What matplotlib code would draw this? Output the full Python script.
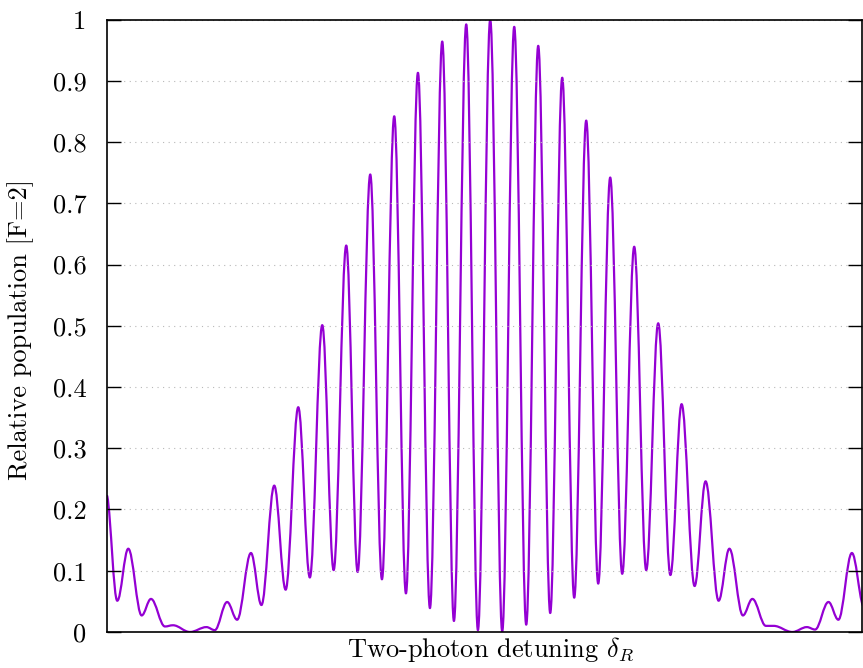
import matplotlib
matplotlib.use("Agg")
import matplotlib.pyplot as plt
from matplotlib.path import Path
from matplotlib.patches import PathPatch

plt.rcParams['font.family'] = 'serif'
plt.rcParams['font.serif'] = ['cmr10', 'DejaVu Serif']
plt.rcParams['mathtext.fontset'] = 'cm'
plt.rcParams['axes.unicode_minus'] = False

# turning points of the fringe pattern (detuning, arbitrary units; population)
# first and last entries are the curve ends at the plot edges
detuning = [-383.0, -373.0, -362.0, -348.6, -339.3, -325.3, -317.3, -300.3,
            -283.8, -275.5, -263.1, -253.1, -239.3, -228.8, -216.0, -204.6,
            -192.0, -180.4, -168.0, -156.6, -144.0, -132.6, -120.0, -108.3,
            -96.0, -84.3, -72.3, -60.3, -48.0, -36.3, -24.0, -12.3,
            0.0, 12.0, 24.0, 36.0, 48.0, 60.0, 72.0, 84.0,
            96.0, 108.0, 120.0, 132.0, 144.0, 156.0, 168.0, 180.2,
            191.4, 204.4, 215.4, 228.4, 239.2, 252.7, 262.2, 275.7,
            283.5, 302.2, 316.7, 324.9, 338.3, 348.2, 361.7, 372.7]
population = [0.222, 0.051, 0.136, 0.027, 0.054, 0.009, 0.011, 0.000,
              0.008, 0.003, 0.049, 0.020, 0.129, 0.044, 0.239, 0.069,
              0.367, 0.089, 0.501, 0.101, 0.631, 0.098, 0.747, 0.086,
              0.842, 0.063, 0.913, 0.039, 0.964, 0.018, 0.992, 0.003,
              1.000, 0.001, 0.988, 0.012, 0.957, 0.031, 0.905, 0.056,
              0.835, 0.079, 0.742, 0.095, 0.629, 0.101, 0.504, 0.093,
              0.372, 0.075, 0.246, 0.051, 0.136, 0.027, 0.054, 0.010,
              0.010, 0.000, 0.008, 0.004, 0.049, 0.020, 0.129, 0.043]

yticks = [0, 0.1, 0.2, 0.3, 0.4, 0.5, 0.6, 0.7, 0.8, 0.9, 1]
ytick_labels = ['0', '0.1', '0.2', '0.3', '0.4', '0.5', '0.6', '0.7', '0.8', '0.9', '1']


def fringe_path(xs, ys):
    # cubic pieces between turning points, flat tangents at the extrema
    k = 0.3642
    n = len(xs)
    slopes = [0.0] * n
    slopes[0] = 0.5 * (ys[1] - ys[0]) / (xs[1] - xs[0])
    slopes[-1] = 0.5 * (ys[-1] - ys[-2]) / (xs[-1] - xs[-2])
    verts = [(xs[0], ys[0])]
    codes = [Path.MOVETO]
    for i in range(n - 1):
        dx = xs[i + 1] - xs[i]
        verts.append((xs[i] + k * dx, ys[i] + k * dx * slopes[i]))
        verts.append((xs[i + 1] - k * dx, ys[i + 1] - k * dx * slopes[i + 1]))
        verts.append((xs[i + 1], ys[i + 1]))
        codes += [Path.CURVE4] * 3
    return Path(verts, codes)


fig = plt.figure(figsize=(8.63, 6.68), dpi=100)
ax = fig.add_axes([0.1243, 0.0539, 0.8751, 0.9169])

patch = PathPatch(fringe_path(detuning, population), facecolor='none',
                  edgecolor='#9400d3', linewidth=1.6, transform=ax.transData,
                  joinstyle='round', capstyle='round')
ax.add_patch(patch)

ax.set_xlim(-383.0, 372.3)
ax.set_ylim(0, 1)
ax.set_yticks(yticks)
ax.set_yticklabels(ytick_labels)
ax.set_xticks([])
ax.tick_params(axis='y', direction='in', length=10, width=1.0, labelsize=19,
               pad=15, right=True)
ax.grid(axis='y', color='#b8b8b8', linestyle=(0, (1, 4)), linewidth=0.8)

for s in ax.spines.values():
    s.set_linewidth(1.2)

ax.set_xlabel(r'Two-photon detuning $\delta_R$', fontsize=19, labelpad=2)
ax.xaxis.set_label_coords(0.507, -0.006)
ax.set_ylabel('Relative population [F=2]', fontsize=19)
ax.yaxis.set_label_coords(-0.097, 0.494)

fig.savefig('out.png', dpi=100)
